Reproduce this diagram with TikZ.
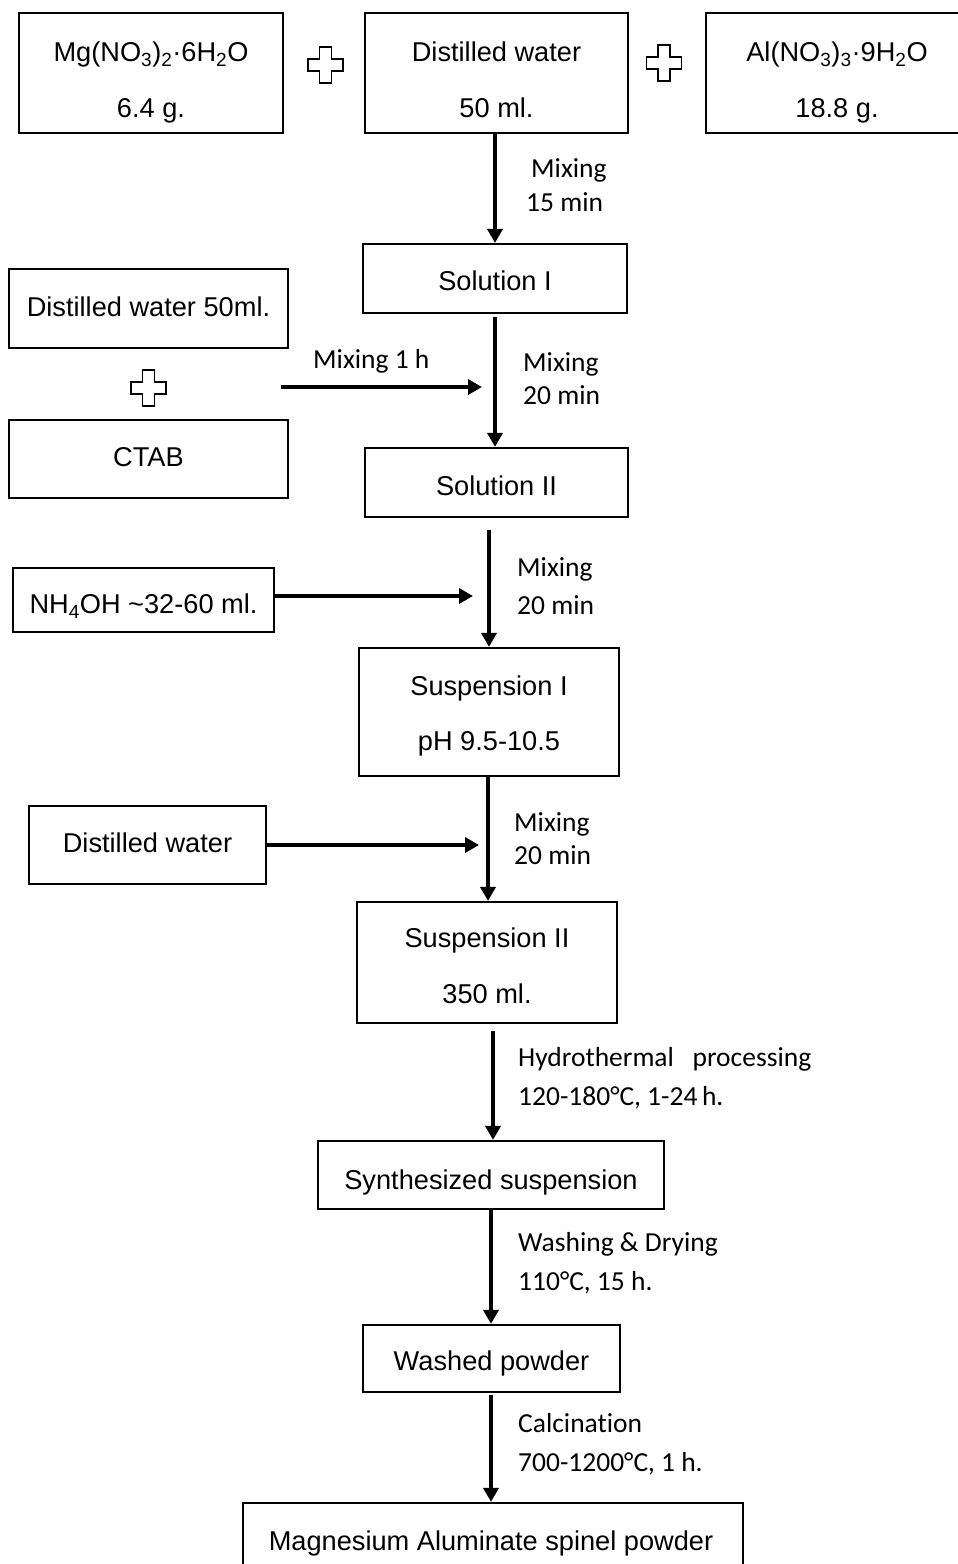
\documentclass[tikz,border=0pt]{standalone}
\usepackage{fontspec}
\setmainfont{Liberation Sans}
\newfontfamily\lblfont[Ligatures=NoCommon]{Carlito}
\usetikzlibrary{arrows.meta}
\begin{document}
\begin{tikzpicture}[x=1pt,y=-1pt,
  box/.style={draw,line width=2.2pt,inner sep=0pt},
  btxt/.style={inner sep=0pt,font=\fontsize{27.2}{31}\selectfont,text height=0.72em,text depth=0.0em},
  lbl/.style={inner sep=0pt,anchor=west,font=\lblfont\fontsize{27.5}{31}\selectfont,text height=0.64em,text depth=0.0em},
  arr/.style={line width=3.6pt,-{Triangle[length=14pt,width=15pt]}},
  plusicon/.pic={\draw[line width=1.9pt,line join=miter]
     (-6,-18)--(6,-18)--(6,-6)--(17.5,-6)--(17.5,6)--(6,6)--(6,18)
     --(-6,18)--(-6,6)--(-17.5,6)--(-17.5,-6)--(-6,-6)--cycle;}
]
\useasboundingbox (0,0) rectangle (958,1564);
\clip (0,0) rectangle (958,1564);

% top row
\node[box,minimum width=264pt,minimum height=120pt] (b1) at (151,73) {};
\node[btxt] (b1a) at (151,58) {Mg(NO\textsubscript{3})\textsubscript{2}·6H\textsubscript{2}O};
\node[btxt] (b1b) at (151,114) {6.4 g.};
\node[box,minimum width=263pt,minimum height=120pt] (b2) at (496.5,73) {};
\node[btxt] (b2a) at (496.5,58) {Distilled water};
\node[btxt] (b2b) at (496.5,114) {50 ml.};
\node[box,minimum width=262pt,minimum height=120pt] (b3) at (837,73) {};
\node[btxt] (b3a) at (837,58) {Al(NO\textsubscript{3})\textsubscript{3}·9H\textsubscript{2}O};
\node[btxt] (b3b) at (837,114) {18.8 g.};
\pic at (325.5,65) {plusicon};
\pic at (664,63) {plusicon};

% solution I
\node[box,minimum width=264pt,minimum height=69pt] (sol1) at (495,278.5) {};
\node[btxt] (sol1t) at (495,287) {Solution I};
\draw[arr] (b2.south -| sol1.north) -- (sol1.north);
\node[lbl] (l1a) at (531,174) {Mixing};
\node[lbl] (l1b) at (526,208) {15 min};

% left group
\node[box,minimum width=279pt,minimum height=79pt] (dw50) at (148.5,308.5) {};
\node[btxt] (dw50t) at (148.5,313) {Distilled water 50ml.};
\pic at (148.5,388) {plusicon};
\node[box,minimum width=279pt,minimum height=78pt] (ctab) at (148.5,459) {};
\node[btxt] (ctabt) at (148.5,463) {CTAB};
\coordinate (m1s) at (281,387);
\coordinate (m1e) at (482,387);
\draw[arr] (m1s) -- (m1e);
\node[lbl] (l2) at (313,365) {Mixing 1 h};

% solution II
\node[box,minimum width=263pt,minimum height=69pt] (sol2) at (496.5,482.5) {};
\node[btxt] (sol2t) at (496.5,492) {Solution II};
\draw[arr,shorten <=3pt] (sol1.south) -- (sol1.south |- sol2.north);
\node[lbl] (l3a) at (523,368) {Mixing};
\node[lbl] (l3b) at (523,401) {20 min};

% suspension I
\node[box,minimum width=260pt,minimum height=128pt] (sus1) at (489,712) {};
\node[btxt] (sus1a) at (489,692) {Suspension I};
\node[btxt] (sus1b) at (489,747) {pH 9.5-10.5};
\draw[arr,shorten <=12pt] (sus1.north |- sol2.south) -- (sus1.north);
\node[lbl] (l4a) at (517,573) {Mixing};
\node[lbl] (l4b) at (517,611) {20 min};
\node[box,minimum width=261pt,minimum height=64pt] (nh4) at (143.5,600) {};
\node[btxt] (nh4t) at (143.5,610) {NH\textsubscript{4}OH \textasciitilde32-60 ml.};
\coordinate (m2e) at (473,596);
\draw[arr] (nh4.east |- m2e) -- (m2e);

% suspension II
\node[box,minimum width=260pt,minimum height=121pt] (sus2) at (487,962.5) {};
\node[btxt] (sus2a) at (487,944) {Suspension II};
\node[btxt] (sus2b) at (487,1000) {350 ml.};
\draw[arr] (sus1.south -| 488,0) -- (488,0 |- sus2.north);
\node[lbl] (l5a) at (514,828) {Mixing};
\node[lbl] (l5b) at (514,861) {20 min};
\node[box,minimum width=237pt,minimum height=78pt] (dw) at (147.5,845) {};
\node[btxt] (dwt) at (147.5,849) {Distilled water};
\coordinate (m3e) at (479,845);
\draw[arr] (dw.east) -- (m3e);

% synthesized
\node[box,minimum width=346pt,minimum height=68pt] (syn) at (491,1175) {};
\node[btxt] (synt) at (491,1186) {Synthesized suspension};
\draw[arr,shorten <=7pt] (493,0 |- sus2.south) -- (493,0 |- syn.north);
\node[lbl] (l6a) at (518,1063) {Hydrothermal\ \ \ processing};
\node[lbl] (l6b) at (518,1102) {120-180°C, 1-24\,h.};

% washed
\node[box,minimum width=257pt,minimum height=67pt] (wash) at (491.5,1358.5) {};
\node[btxt] (washt) at (491.5,1367) {Washed powder};
\draw[arr] (491,0 |- syn.south) -- (491,0 |- wash.north);
\node[lbl] (l7a) at (518,1248) {Washing \& Drying};
\node[lbl] (l7b) at (518,1287) {110°C, 15 h.};

% final
\node[box,minimum width=500pt,minimum height=72pt] (fin) at (493,1539) {};
\node[btxt] (fint) at (491,1547) {Magnesium Aluminate spinel powder};
\draw[arr,shorten <=2pt] (491,0 |- wash.south) -- (491,0 |- fin.north);
\node[lbl] (l8a) at (518,1429) {Calcination};
\node[lbl] (l8b) at (518,1468) {700-1200°C, 1 h.};
\end{tikzpicture}
\end{document}
